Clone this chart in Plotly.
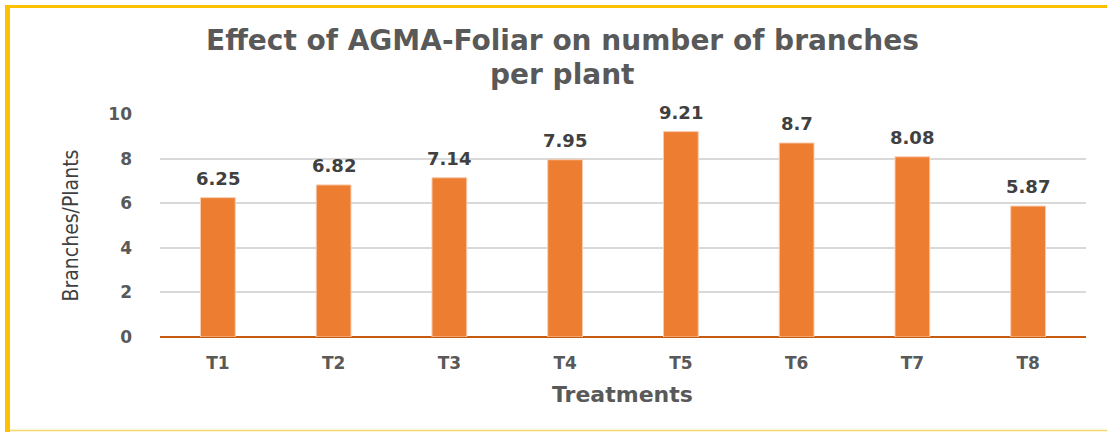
import plotly.graph_objects as go

categories = ["T1", "T2", "T3", "T4", "T5", "T6", "T7", "T8"]
values = [6.25, 6.82, 7.14, 7.95, 9.21, 8.7, 8.08, 5.87]
labels = ["6.25", "6.82", "7.14", "7.95", "9.21", "8.7", "8.08", "5.87"]
y_ticks = [0, 2, 4, 6, 8, 10]
title_lines = ["Effect of AGMA-Foliar on number of branches", "per plant"]

W, H = 1107, 432
L, R, T, B = 160, 21, 114, 95
PW, PH = W - L - R, H - T - B


def px(x):
    return (x - L) / PW


def py(y):
    return (H - B - y) / PH


BOLD = "DejaVu Sans"
fig = go.Figure()
fig.add_trace(go.Bar(
    x=categories, y=values,
    marker=dict(color="#ED7D31", line=dict(color="#F8CBAD", width=1)),
    hoverinfo="skip",
))

annotations = []
for c, v, t in zip(categories, values, labels):
    annotations.append(dict(
        x=c, y=v, xref="x", yref="y", text=t, showarrow=False,
        yanchor="bottom", yshift=7,
        font=dict(family=BOLD, size=18, color="#404040", weight="bold"),
    ))

for txt, yc in zip(title_lines, [41, 75]):
    annotations.append(dict(
        x=px(562), y=py(yc), xref="paper", yref="paper", xanchor="center", yanchor="middle",
        text=txt, showarrow=False,
        font=dict(family=BOLD, size=28, color="#595959", weight="bold"),
    ))

annotations.append(dict(
    x=px(70), y=0.5, xref="paper", yref="paper", xanchor="center", yanchor="middle",
    text="Branches/Plants", textangle=-90, showarrow=False,
    font=dict(family="DejaVu Sans Condensed", size=21, color="#404040"),
))
annotations.append(dict(
    x=px(622), y=py(395), xref="paper", yref="paper", xanchor="center", yanchor="middle",
    text="Treatments", showarrow=False,
    font=dict(family=BOLD, size=22, color="#595959", weight="bold"),
))

fig.update_layout(
    width=W, height=H,
    margin=dict(l=L, r=R, t=T, b=B),
    paper_bgcolor="white", plot_bgcolor="white",
    bargap=0.7,
    showlegend=False,
    xaxis=dict(
        tickfont=dict(family=BOLD, size=17, color="#595959", weight="bold"),
        showgrid=False, showline=False, ticks="", ticklabelstandoff=14,
    ),
    yaxis=dict(
        range=[0, 10], tickvals=y_ticks,
        tickfont=dict(family=BOLD, size=17, color="#595959", weight="bold"),
        showgrid=True, gridcolor="#D9D9D9", gridwidth=1.5,
        zeroline=True, zerolinecolor="#C55A11", zerolinewidth=2,
        ticks="", ticklabelstandoff=27, showline=False,
    ),
    annotations=annotations,
    shapes=[
        dict(type="line", xref="paper", yref="paper", x0=px(5), x1=px(1107),
             y0=py(6.5), y1=py(6.5),
             line=dict(color="#FFC000", width=3)),
        dict(type="line", xref="paper", yref="paper", x0=px(7.5), x1=px(7.5),
             y0=py(5), y1=py(432),
             line=dict(color="#FFC000", width=5)),
        dict(type="line", xref="paper", yref="paper", x0=px(10), x1=px(1107),
             y0=py(430.5), y1=py(430.5),
             line=dict(color="#F5D66A", width=1.5)),
    ],
)

fig.write_html("out.html", config={"displayModeBar": False},
               post_script="document.body.style.margin='0';")
